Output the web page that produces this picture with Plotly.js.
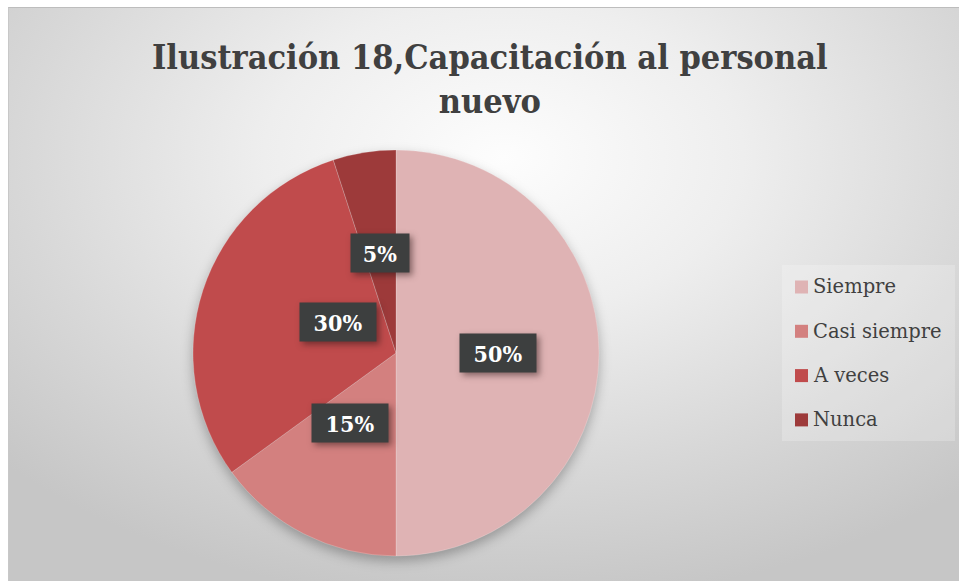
<!DOCTYPE html>
<html>
<head>
<meta charset="utf-8">
<script src="https://cdn.plot.ly/plotly-3.0.1.min.js"></script>
<style>
  html, body { margin: 0; padding: 0; background: #ffffff; }
  #wrap { position: absolute; left: 0; top: 0; width: 959px; height: 581px; overflow: hidden; background: #ffffff; }
  #bg { position: absolute; left: 8px; top: 7px; width: 951px; height: 574px;
        background: radial-gradient(ellipse 72% 78% at 52% 26%, #fdfdfd 0%, #eeeeee 35%, #d8d8d8 70%, #c6c6c6 100%);
        border-top: 1px solid #bdbdbd; border-left: 1px solid #c8c8c8; }
  #chart { position: absolute; left: 0; top: 0; width: 959px; height: 581px; }
  #chart .pielayer { filter: drop-shadow(0px 5px 6px rgba(0,0,0,0.28)); }
  #chart .annotation rect.bg { filter: drop-shadow(3px 3px 3px rgba(40,20,20,0.5)); }
</style>
</head>
<body>
<div id="wrap">
  <div id="bg"></div>
  <div id="chart"></div>
</div>
<script>
// ---- data ----
const categories = ["Siempre", "Casi siempre", "A veces", "Nunca"];
const values = [50, 15, 30, 5];
const sliceColors = ["#dfb3b4", "#d3807f", "#c04b4c", "#9d3a3a"];
const titleLines = ["Ilustración 18,Capacitación al personal", "nuevo"];

// ---- layout helpers (pixel -> paper) ----
const W = 959, H = 581;
const px = x => x / W;
const py = y => 1 - y / H;

const cx = 396, cy = 353, R = 203;

const total = values.reduce((a, b) => a + b, 0);
const labelFont = {family: "DejaVu Serif Condensed, DejaVu Serif, serif", size: 23, color: "#ffffff", weight: "bold"};

const annotations = [];
const shapes = [];

// title
annotations.push({
  xref: "paper", yref: "paper", x: px(490), y: py(78.5),
  xanchor: "center", yanchor: "middle", showarrow: false,
  text: titleLines.join("<br>"),
  font: {family: "DejaVu Serif Condensed, DejaVu Serif, serif", size: 34, color: "#404040", weight: "bold"}
});

// data labels
let cum = 0;
values.forEach((v, i) => {
  const mid = (cum + v / 2) / total * 2 * Math.PI;
  cum += v;
  const lx = cx + 0.5 * R * Math.sin(mid);
  const ly = cy - 0.5 * R * Math.cos(mid);
  const txt = Math.round(v / total * 100) + "%";
  const w = 18 * txt.length + 22;
  annotations.push({
    xref: "paper", yref: "paper", x: px(lx), y: py(ly),
    text: txt, showarrow: false, width: w, height: 38,
    font: labelFont, bgcolor: "#3d3f3f", borderpad: 0
  });
});

// manual legend
shapes.push({
  type: "rect", xref: "paper", yref: "paper",
  x0: px(782), x1: px(955), y0: py(265), y1: py(441),
  fillcolor: "rgba(255,255,255,0.22)", line: {width: 0}, layer: "below"
});
const legendTop = 287, legendStep = 44.3;
categories.forEach((c, i) => {
  const yy = legendTop + i * legendStep;
  shapes.push({
    type: "rect", xref: "paper", yref: "paper",
    x0: px(795), x1: px(808), y0: py(yy - 6.5), y1: py(yy + 6.5),
    fillcolor: sliceColors[i], line: {width: 0}
  });
  annotations.push({
    xref: "paper", yref: "paper", x: px(811), y: py(yy),
    xanchor: "left", yanchor: "middle", showarrow: false,
    text: c, font: {family: "DejaVu Serif, serif", size: 19.5, color: "#404040"}
  });
});

const data = [{
  type: "pie",
  labels: categories,
  values: values,
  sort: false,
  direction: "clockwise",
  rotation: 0,
  marker: {colors: sliceColors, line: {color: "rgba(255,255,255,0.25)", width: 0.8}},
  textinfo: "none",
  hoverinfo: "label+percent",
  domain: {x: [px(cx - R), px(cx + R)], y: [py(cy + R), py(cy - R)]},
  showlegend: false
}];

const layout = {
  width: W, height: H,
  margin: {l: 0, r: 0, t: 0, b: 0},
  paper_bgcolor: "rgba(0,0,0,0)",
  plot_bgcolor: "rgba(0,0,0,0)",
  showlegend: false,
  annotations: annotations,
  shapes: shapes
};

Plotly.newPlot("chart", data, layout, {displayModeBar: false, staticPlot: true});
</script>
</body>
</html>
